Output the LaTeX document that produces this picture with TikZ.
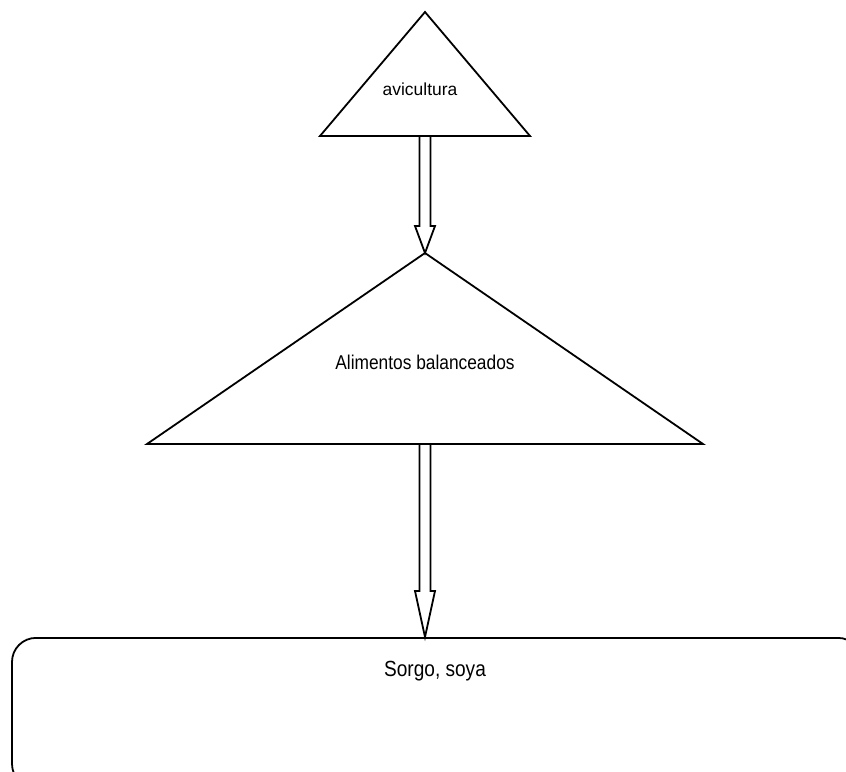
\documentclass[tikz,border=0pt]{standalone}
\usepackage{fontspec}
\newfontfamily\plainfont{Liberation Sans}
\newfontfamily\narrowfont{Liberation Sans}[FakeStretch=0.87]
\usepackage{tikz}
\usetikzlibrary{calc,positioning}

\begin{document}
\begin{tikzpicture}[x=1bp,y=-1bp,line join=miter]
\tikzstyle{every node}=[inner sep=0pt,anchor=base]
\tikzstyle{tri}=[draw=black,line width=1.8bp]
\tikzstyle{fat}=[draw=black,line width=1.8bp]
\tikzstyle{caja}=[draw=black,line width=1.8bp,rounded corners=24bp,
  minimum width=850bp,minimum height=150bp,anchor=north]
  \useasboundingbox (0,0) rectangle (846,772);
  \clip (0,0) rectangle (846,772);

  % avicultura
  \coordinate (avi top) at (425,12);
  \coordinate (avi left) at (320,136);
  \coordinate (avi right) at (530,136);
  \coordinate (avi base) at (425,136);
  \node (avi) at (420,95) [font=\plainfont\fontsize{17.5}{20}\selectfont] {avicultura};
  \draw [tri] (avi top) -- (avi right) -- (avi left) -- cycle;

  % alimentos
  \coordinate (alim top) at (425,253);
  \coordinate (alim left) at (147,444);
  \coordinate (alim right) at (703,444);
  \coordinate (alim base) at (425,444);
  \node (alim) at (425,369) [font=\narrowfont\fontsize{20}{24}\selectfont] {Alimentos balanceados};
  \draw [tri] (alim top) -- (alim right) -- (alim left) -- cycle;

  % sorgo
  \node (granos) at (437,637) [caja] {};
  \node (sorgo) at (435,676) [font=\narrowfont\fontsize{22}{26}\selectfont] {Sorgo, soya};

  \draw [fat] ($(avi base)+(-5.5,0)$) -- ($(alim top)+(-5.5,-27)$) -- ++(-4.5,0)
    -- (alim top) -- ($(alim top)+(10,-27)$) -- ++(-4.5,0) -- ($(avi base)+(5.5,0)$);
  \draw [fat] ($(alim base)+(-5.5,0)$) -- ($(granos.north -| alim base)+(-5.5,-46)$) -- ++(-4.5,0)
    -- (granos.north -| alim base) -- ($(granos.north -| alim base)+(10,-46)$) -- ++(-4.5,0)
    -- ($(alim base)+(5.5,0)$);

\end{tikzpicture}
\end{document}
